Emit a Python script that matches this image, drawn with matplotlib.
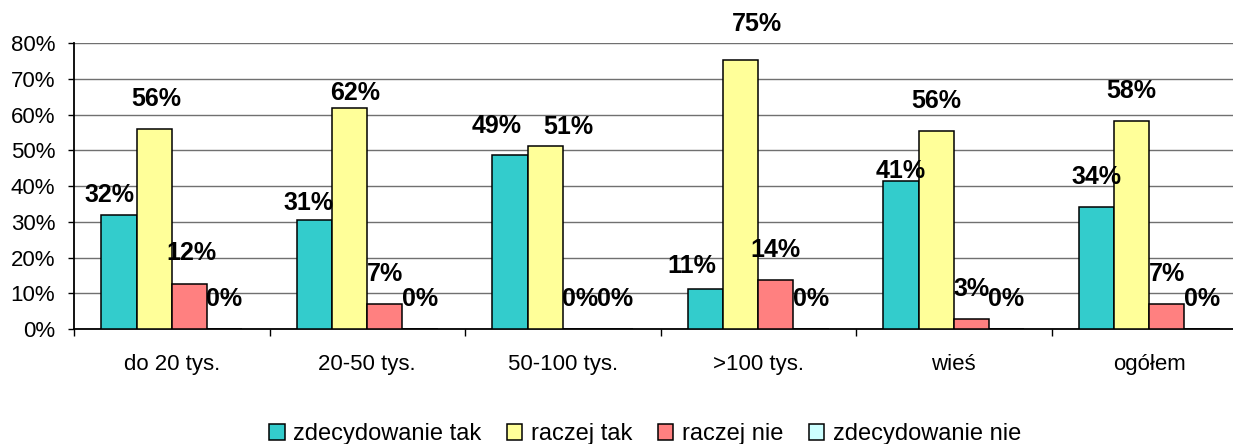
import matplotlib
matplotlib.use("Agg")
import matplotlib.pyplot as plt
from matplotlib.patches import Patch
import numpy as np

categories = ["do 20 tys.", "20-50 tys.", "50-100 tys.", ">100 tys.", "wieś", "ogółem"]
series_names = ["zdecydowanie tak", "raczej tak", "raczej nie", "zdecydowanie nie"]
zdecydowanie_tak = [31.8, 30.6, 48.7, 11.3, 41.4, 34.2]
raczej_tak = [55.9, 61.9, 51.2, 75.2, 55.3, 58.3]
raczej_nie = [12.5, 7.0, 0.0, 13.7, 2.8, 7.0]
zdecydowanie_nie = [0.0, 0.0, 0.0, 0.0, 0.0, 0.0]
labels_tak = ["32%", "31%", "49%", "11%", "41%", "34%"]
labels_raczej_tak = ["56%", "62%", "51%", "75%", "56%", "58%"]
labels_raczej_nie = ["12%", "7%", "0%", "14%", "3%", "7%"]
labels_nie = ["0%", "0%", "0%", "0%", "0%", "0%"]
yticks = [0, 10, 20, 30, 40, 50, 60, 70, 80]

colors = ["#33CCCC", "#FFFF99", "#FF8080", "#CCFFFF"]

# label nudges in pixels (dx, dy above bar top) keyed by (series, category); default (0, 30)
nudges = {
    (0, 0): (-9, 20), (0, 1): (-6, 17), (0, 2): (-13, 29), (0, 3): (-14, 23), (0, 4): (0, 10),
    (1, 0): (2, 30), (1, 1): (5, 15), (1, 2): (23, 19), (1, 3): (16, 36),
    (2, 0): (2, 31),
}

plt.rcParams['font.family'] = ['Liberation Sans', 'DejaVu Sans']
dpi = 100
fig = plt.figure(figsize=(12.33, 4.44), dpi=dpi)
ax = fig.add_axes([74/1233, 115/444, 1173/1233, 286/444])

x = np.arange(len(categories))
w = 0.18
data = [zdecydowanie_tak, raczej_tak, raczej_nie, zdecydowanie_nie]
labs = [labels_tak, labels_raczej_tak, labels_raczej_nie, labels_nie]
px2pt = 72 / dpi
for s, (vals, lab) in enumerate(zip(data, labs)):
    pos = x + (s - 1.5) * w
    ax.bar(pos, vals, width=w, color=colors[s], edgecolor="black", linewidth=1.1, zorder=3)
    for i, (p, v, t) in enumerate(zip(pos, vals, lab)):
        dx, dy = nudges.get((s, i), (0, 30))
        ax.annotate(t, (p, v), xytext=(dx * px2pt, dy * px2pt), textcoords="offset points",
                    ha="center", va="center", fontsize=18, fontweight="bold", zorder=5,
                    annotation_clip=False)

ax.set_xlim(-0.5, len(categories) - 0.5)
ax.set_ylim(0, 80)
ax.set_yticks(yticks)
ax.set_yticklabels([f"{v}%" for v in yticks], fontsize=16)
ax.yaxis.grid(True, color="#707070", linewidth=1.0, zorder=0)
ax.set_axisbelow(True)
ax.set_xticks(x)
ax.set_xticklabels(categories, fontsize=16)
ax.set_xticks(np.arange(-0.5, len(categories)), minor=True)
ax.tick_params(axis="x", which="major", length=0, pad=18)
ax.tick_params(axis="x", which="minor", length=5, width=1, color="black", direction="out")
ax.tick_params(axis="y", length=4.5, width=1, pad=9, direction="out")
for side in ["top", "right"]:
    ax.spines[side].set_visible(False)
for side in ["left", "bottom"]:
    ax.spines[side].set_color("black")
    ax.spines[side].set_linewidth(1.3)

handles = [Patch(facecolor=c, edgecolor="black", linewidth=1.1) for c in colors]
fig.legend(handles, series_names, loc="center", bbox_to_anchor=(645/1233, 1 - 434/444),
           ncol=4, frameon=False, fontsize=17, handlelength=0.65, handleheight=0.65,
           handletextpad=0.35, columnspacing=1.1)

fig.savefig("out.png", dpi=dpi)
